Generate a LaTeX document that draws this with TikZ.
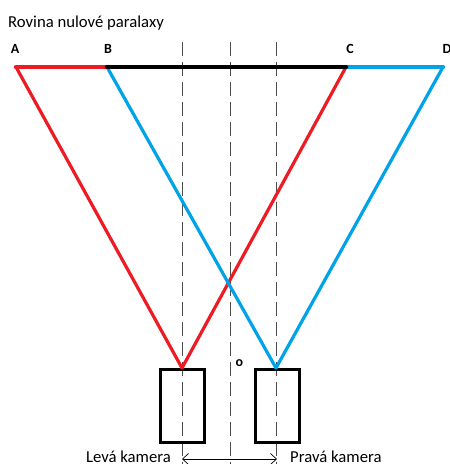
\documentclass[tikz,border=0pt]{standalone}
\usepackage{fontspec}
\setmainfont{Carlito}
\usepackage{xcolor}
\usetikzlibrary{arrows.meta}
\definecolor{paintred}{RGB}{237,28,36}
\definecolor{paintblue}{RGB}{0,162,232}

\tikzset{
    ray/.style={line width=3.2pt, line cap=round, line join=round},
    axis/.style={gray!60!black, line width=0.9pt, dash pattern=on 14pt off 6pt},
    camera/.style={draw, line width=3pt, minimum width=44pt, minimum height=73pt, inner sep=0pt},
    label/.style={font=\fontsize{16.7}{20}\selectfont, inner sep=0pt},
    corner/.style={font=\fontsize{14}{17}\selectfont\bfseries, inner sep=0pt}
}

\begin{document}
\begin{tikzpicture}[x=1pt,y=-1pt]
    \useasboundingbox (0,0) rectangle (450,464);

    % Title
    \node[label, anchor=base west] (title) at (8,27) {Rovina nulové paralaxy};

    % Points on the zero parallax plane
    \coordinate (A) at (16,67);
    \coordinate (B) at (107,67);
    \coordinate (C) at (346,67);
    \coordinate (D) at (443,67);
    \node[corner, anchor=base] (lA) at (15,53) {A};
    \node[corner, anchor=base] (lB) at (108,53) {B};
    \node[corner, anchor=base] (lC) at (350,53) {C};
    \node[corner, anchor=base] (lD) at (447,53) {D};

    % Camera centres
    \coordinate (L) at (182,368);
    \coordinate (R) at (276,368);

    % Dashed axes
    \foreach \x/\n in {182/l,230/o,276/r} {
        \coordinate (\n top) at (\x,42);
        \coordinate (\n bot) at (\x,464);
        \draw[axis] (\n top) -- (\n bot);
    }

    % Cameras
    \node[camera] (camL) at (182,406) {};
    \node[camera] (camR) at (277,406) {};

    % Rays
    \draw[ray, paintred] (A) -- (L) -- (C);
    \draw[ray, paintblue] (B) -- (R) -- (D);

    % Plane
    \draw[ray, line width=4.5pt, paintred] (A) -- (B);
    \draw[ray, line width=4.5pt, paintblue] (C) -- (D);
    \draw[ray, line width=4.5pt, black] (B) -- (C);

    \node[font=\fontsize{14}{16}\selectfont\bfseries, inner sep=0pt] (o) at (239.5,363) {o};

    % Baseline
    \coordinate (bl) at (182,459);
    \coordinate (br) at (277,459);
    \draw[line width=0.7pt, {Straight Barb[length=6pt,width=11pt]}-{Straight Barb[length=6pt,width=11pt]}] (bl) -- (br);
    \node[label, anchor=base east] (levl) at (171,462) {Levá kamera};
    \node[label, anchor=base west] (prav) at (290,462) {Pravá kamera};
\end{tikzpicture}
\end{document}
